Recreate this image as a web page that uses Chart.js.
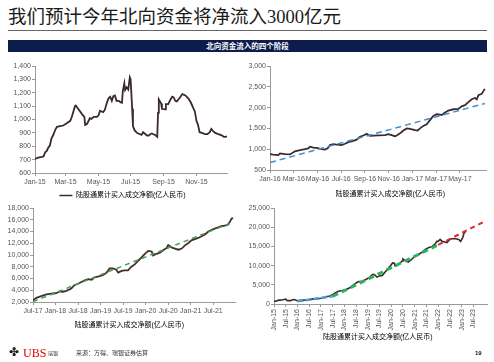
<!DOCTYPE html>
<html><head><meta charset="utf-8">
<script src="https://cdn.jsdelivr.net/npm/chart.js@4.4.0/dist/chart.umd.min.js"></script>
<style>
html,body{margin:0;padding:0;background:#fff;}
body{width:494px;height:362px;position:relative;overflow:hidden;font-family:'Liberation Sans','Noto Sans CJK SC',sans-serif;}
.abs{position:absolute;white-space:nowrap;}
#title{left:8px;top:5px;height:24px;line-height:24px;font-size:18.5px;color:#1a1a1a;font-family:'Liberation Serif','Noto Sans CJK SC',serif;}
#rule{left:8px;top:30px;width:479px;height:1px;background:#666;}
#band{left:8px;top:40px;width:479px;height:12px;line-height:12px;background:#0c1c4d;color:#fff;font-size:7.5px;font-weight:bold;text-align:center;font-family:'Noto Sans CJK SC',sans-serif;}
canvas{position:absolute;}
#logo{left:9px;top:344px;font-size:12px;line-height:16px;color:#222;font-family:'DejaVu Sans',sans-serif;}
#ubs{left:23px;top:345px;font-size:12px;line-height:16px;color:#e60000;font-family:'Liberation Serif',serif;}
#ruiyin{left:48px;top:349px;font-size:5px;line-height:8px;color:#333;font-family:'Noto Sans CJK SC',sans-serif;}
#src{left:76px;top:349px;font-size:6px;line-height:8px;color:#333;font-family:'Noto Sans CJK SC',sans-serif;}
#page{left:475px;top:349px;font-size:6px;line-height:8px;color:#111;font-weight:bold;}
</style></head><body>
<div id="title" class="abs">我们预计今年北向资金将净流入3000亿元</div>
<div id="rule" class="abs"></div>
<div id="band" class="abs">北向资金流入的四个阶段</div>
<canvas id="c1" width="245" height="154" style="left:0px;top:55px"></canvas>
<canvas id="c2" width="249" height="153" style="left:245px;top:55px"></canvas>
<canvas id="c3" width="245" height="139" style="left:0px;top:200px"></canvas>
<canvas id="c4" width="249" height="151" style="left:245px;top:200px"></canvas>
<div id="logo" class="abs">✤</div>
<div id="ubs" class="abs">UBS</div>
<div id="ruiyin" class="abs">瑞银</div>
<div id="src" class="abs">来源：万得、瑞银证券估算</div>
<div id="page" class="abs">19</div>
<script>
// ---------- Data ----------
const seriesName = '陆股通累计买入成交净额(亿人民币)';

// Chart 1: 2015, x = trading-day index
const c1Days = [0,4,9,11,13,15,17,19,21,23,26,28,32,36,40,45,47,49,51,52,55,60,63,64,66,68,70,72,75,79,81,83,85,87,89,92,94,96,98,100,102,104,107,109,111,112,114,115,117,119,121,122,124,125,127,130,134,136,138,141,143,145,147,149,151,153,156,157,158,161,162,166,167,170,173,175,177,179,181,185,188,192,196,199,202,204,206,208,210,213,217,220,223,225,227,230,234,239,241,243,245];
const c1Values = [705,715,720,725,755,765,790,805,860,880,925,945,950,955,970,990,1020,1060,1100,1105,1080,1040,1020,960,965,985,1010,1005,1020,1020,1030,1065,1060,1055,1070,1130,1160,1170,1140,1175,1180,1140,1140,1130,1125,1210,1270,1220,1240,1225,1315,1300,1080,950,920,900,890,885,905,890,880,880,890,895,890,885,870,1050,1150,1120,1080,1075,1115,1115,1150,1170,1165,1140,1135,1165,1190,1180,1155,1125,1085,1060,990,960,905,900,890,890,905,930,915,900,890,880,870,870,875];
const c1TickPos = [0,39,81,122,164,206];
const c1TickLabels = ['Jan-15','Mar-15','May-15','Jul-15','Sep-15','Nov-15'];

// Chart 2: Jan-16 .. Jul-17, x = months from Jan-16
const c2Months = [0,0.28,0.7,0.84,1.26,1.69,2.1,2.53,2.95,3.23,3.37,3.65,3.93,4.35,4.63,4.86,5.06,5.34,5.62,6.04,6.32,6.6,7.02,7.3,7.58,7.87,8.15,8.43,9.13,9.69,9.97,10.25,10.53,10.67,10.96,11.24,11.52,11.8,12.22,12.44,12.64,12.92,13.2,13.48,13.76,14.04,14.33,14.47,14.75,15.03,15.45,15.87,16.15,16.43,16.71,17.0,17.28,17.42,17.56,17.84,18.1];
const c2Values = [880,870,860,900,880,875,950,980,1000,1020,1060,1040,1030,1000,990,1020,1100,1120,1110,1100,1130,1170,1200,1230,1300,1330,1370,1320,1330,1340,1360,1340,1310,1330,1380,1450,1500,1490,1460,1450,1500,1560,1600,1700,1800,1840,1830,1820,1880,1930,1960,1970,2030,2060,2130,2200,2230,2200,2300,2330,2450];
const c2TrendMonths = [0,18.1];
const c2TrendValues = [680,2100];
const c2TickPos = [0,2,4,6,8,10,12,14,16];
const c2TickLabels = ['Jan-16','Mar-16','May-16','Jul-16','Sep-16','Nov-16','Jan-17','Mar-17','May-17'];

// Chart 3: Jul-17 .. Dec-21, x = months from Jul-17
const c3Months = [0,0.9,2.2,3.6,5.3,6.2,7.1,8.0,8.9,10.2,11.1,12,12.9,13.8,14.7,15.6,16.4,17.8,18.7,19.6,20.4,21.3,22.2,22.7,23.6,24.4,25.3,26.2,27.1,28,28.9,29.8,30.7,31.6,32,32.9,33.8,34.7,35.6,36,36.9,37.8,38.7,39.6,40.4,41.3,42.2,43.1,44,44.9,45.8,46.7,47.6,48.4,49.3,50.2,51.1,52,52.4,52.9,53.3];
const c3Values = [2300,2700,3000,3300,3450,3500,3800,3750,3900,4300,4900,5100,5400,5700,5900,5800,6200,6400,6600,7000,7700,7700,7500,7000,7300,7400,7400,8000,8400,9000,9600,10200,10700,10600,9900,10200,10400,10800,11200,11700,11300,11100,10900,11100,11600,12000,12500,12700,12900,13200,13500,14000,14300,14500,14700,14900,15000,15200,15600,16200,16300];
const c3TrendMonths = [0,53.3];
const c3TrendValues = [2050,15600];
const c3TickPos = [0,6,12,18,24,30,36,42,48];
const c3TickLabels = ['Jul-17','Jan-18','Jul-18','Jan-19','Jul-19','Jan-20','Jul-20','Jan-21','Jul-21'];

// Chart 4: Jan-15 .. Jan-23, x = months from Jan-15
const c4Months = [0,1,2,3,4,5,6,6.5,7.5,8.5,9.5,10.5,11.3,12,13,14,15,16,17,18,19,20,21,22,23,24,25,26,27,28,29,30,31,33,35,37,39,41,43,45,47,49,50.4,51.3,52.7,54.4,55.3,57,59,60.7,61.6,62,64,65.6,66,67.8,68.7,70.4,72.2,74,75.8,77.6,79.3,81,82.4,83.3,84,85,86,87,88.5,90,91,93,94.5,95.5,96.5,97.3,98];
const c4Values = [700,750,950,1000,1060,1150,1280,900,890,880,1120,1170,1000,880,880,950,1000,1040,1100,1100,1200,1330,1330,1340,1450,1480,1600,1840,1950,2000,2200,2400,2800,3300,3500,3800,4300,5100,5800,5900,6400,7000,7700,7700,7000,7400,7400,8400,9600,10700,10600,9900,10400,11200,11700,11100,10900,11600,12500,12900,13500,14300,14700,15000,15600,16300,16300,16800,16300,16200,16000,16800,17000,17000,16800,16300,17200,18500,18900];
const c4BlueMonths = [12,30];
const c4BlueValues = [700,2000];
const c4GreenMonths = [30,84];
const c4GreenValues = [2000,15400];
const c4RedMonths = [84,108.5];
const c4RedValues = [15400,21700];
const c4TickPos = [0,6,12,18,24,30,36,42,48,54,60,66,72,78,84,90,96,102];
const c4TickLabels = ['Jan-15','Jul-15','Jan-16','Jul-16','Jan-17','Jul-17','Jan-18','Jul-18','Jan-19','Jul-19','Jan-20','Jul-20','Jan-21','Jul-21','Jan-22','Jul-22','Jan-23','Jul-23'];

// ---------- Helpers ----------
const FONT = "'Liberation Sans','Noto Sans CJK SC',sans-serif";
const AXIS = '#9a9a9a';
const TICKC = '#555';
const MAIN = '#3b2a2a';

function pts(xs, ys) {
  const n = Math.min(xs.length, ys.length);
  const out = [];
  for (let i = 0; i < n; i++) out.push({x: xs[i], y: ys[i]});
  return out;
}
function shift(dx) {
  return { id: 'legendShift', afterLayout(chart) { if (chart.legend) { chart.legend.left += dx; chart.legend.right += dx; } } };
}
function xScale(tickPos, tickLabels, max, height, rot) {
  return {
    type: 'linear', min: 0, max: max,
    afterBuildTicks: (axis) => { axis.ticks = tickPos.map(v => ({value: v})); },
    afterFit: (axis) => { axis.height = height; },
    border: {display: true, color: AXIS, width: 1},
    grid: {display: true, drawOnChartArea: false, drawTicks: true, tickLength: 3, color: AXIS},
    ticks: {
      autoSkip: false, maxRotation: rot, minRotation: rot, padding: 2, color: TICKC,
      font: {family: FONT, size: 7},
      callback: (v) => { const i = tickPos.indexOf(v); return i >= 0 ? tickLabels[i] : ''; }
    }
  };
}
function yScale(min, max, step, width) {
  return {
    min: min, max: max,
    afterFit: (axis) => { axis.width = width; },
    border: {display: true, color: AXIS, width: 1},
    grid: {display: true, drawOnChartArea: false, drawTicks: true, tickLength: 3, color: AXIS},
    ticks: {stepSize: step, padding: 1, color: TICKC, font: {family: FONT, size: 7}}
  };
}
function legend(withLine) {
  return {
    display: true, position: 'bottom',
    labels: {
      color: '#333', font: {family: FONT, size: 7}, padding: 3,
      boxWidth: withLine ? 13 : 0, boxHeight: withLine ? 1.5 : 0,
      generateLabels: () => [{
        text: seriesName, fillStyle: withLine ? MAIN : 'rgba(0,0,0,0)',
        strokeStyle: 'rgba(0,0,0,0)', lineWidth: 0, hidden: false, datasetIndex: 0
      }]
    }
  };
}
function lineDs(data, color, width, dash, order) {
  return {data: data, borderColor: color, backgroundColor: color, borderWidth: width,
          borderDash: dash || [], pointRadius: 0, tension: 0, fill: false, order: order};
}
function baseOptions(pad, xs, ys, leg) {
  return {
    responsive: false, animation: false, events: [],
    layout: {padding: pad},
    scales: {x: xs, y: ys},
    plugins: {legend: leg, tooltip: {enabled: false}, title: {display: false}}
  };
}

// ---------- Charts ----------
new Chart(document.getElementById('c1'), {
  type: 'line',
  data: {datasets: [lineDs(pts(c1Days, c1Values), MAIN, 1.8, null, 1)]},
  options: baseOptions({top: 11, right: 18, left: 0, bottom: 0},
    xScale(c1TickPos, c1TickLabels, 245, 16, 0),
    yScale(600, 1400, 100, 35), legend(true)),
  plugins: [shift(9)]
});

new Chart(document.getElementById('c2'), {
  type: 'line',
  data: {datasets: [
    lineDs(pts(c2Months, c2Values), MAIN, 1.8, null, 1),
    lineDs(pts(c2TrendMonths, c2TrendValues), '#3d8fd1', 1.5, [6, 4], 0)
  ]},
  options: baseOptions({top: 11, right: 8, left: 0, bottom: 0},
    xScale(c2TickPos, c2TickLabels, 18.2, 18, 0),
    yScale(500, 3000, 500, 25), legend(false)),
  plugins: [shift(23)]
});

new Chart(document.getElementById('c3'), {
  type: 'line',
  data: {datasets: [
    lineDs(pts(c3Months, c3Values), '#4a2c2c', 1.8, null, 1),
    lineDs(pts(c3TrendMonths, c3TrendValues), '#3aa655', 1.5, [5, 4], 0)
  ]},
  options: baseOptions({top: 8, right: 10, left: 0, bottom: 0},
    xScale(c3TickPos, c3TickLabels, 53.8, 17, 0),
    yScale(2000, 18000, 2000, 33), legend(false)),
  plugins: [shift(10)]
});

new Chart(document.getElementById('c4'), {
  type: 'line',
  data: {datasets: [
    lineDs(pts(c4Months, c4Values), '#3b2a2a', 1.6, null, 3),
    lineDs(pts(c4BlueMonths, c4BlueValues), '#4a9ad4', 2.5, [6, 2], 2),
    lineDs(pts(c4GreenMonths, c4GreenValues), '#2bb35e', 3, [6, 4], 1),
    lineDs(pts(c4RedMonths, c4RedValues), '#e3262b', 2, [5, 4], 0)
  ]},
  options: baseOptions({top: 8, right: 7, left: 0, bottom: 0},
    xScale(c4TickPos, c4TickLabels, 109, 27, 90),
    yScale(0, 25000, 5000, 29), legend(false)),
  plugins: [shift(10)]
});
</script>
</body></html>
